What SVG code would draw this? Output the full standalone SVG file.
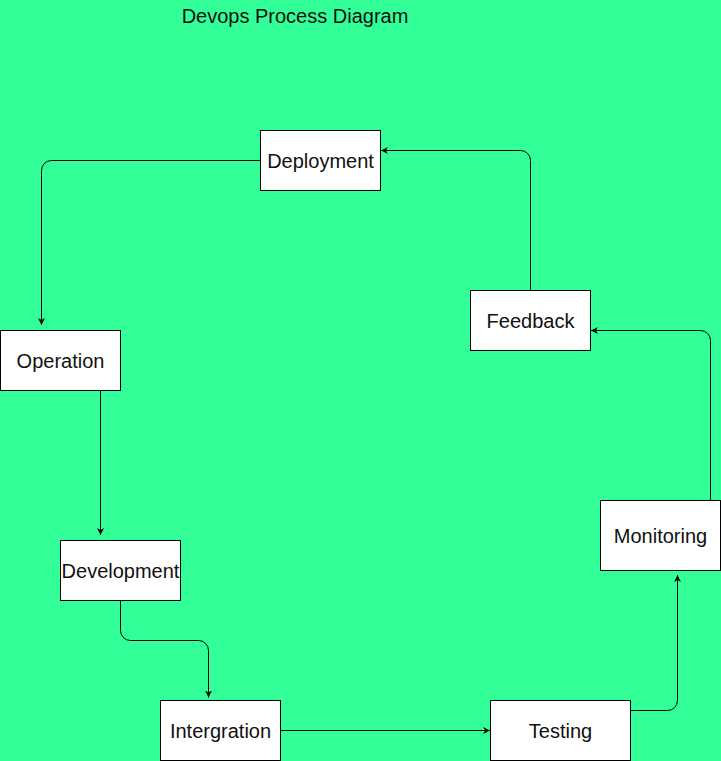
<svg xmlns="http://www.w3.org/2000/svg" width="721" height="761" viewBox="0 0 721 761">
  <style>
    .box { fill: #ffffff; stroke: #000000; stroke-width: 1; }
    .lbl { font-family: "Liberation Sans", Arial, sans-serif; font-size: 20px; fill: #111111; text-anchor: middle; }
    .edge { fill: none; stroke: #000000; stroke-width: 1; marker-end: url(#arrow); }
  </style>
  <defs>
    <marker id="arrow" viewBox="0 0 10 10" refX="10" refY="5" markerWidth="7" markerHeight="7" markerUnits="userSpaceOnUse" orient="auto">
      <path d="M0,0 L10,5 L0,10 L3,5 Z" fill="#000000"/>
    </marker>
  </defs>
  <rect x="0" y="0" width="721" height="761" fill="#33FF99"/>
  <text id="title" class="lbl" x="295" y="23">Devops Process Diagram</text>

  <g id="connectors">
    <path class="edge" d="M260.5 160.5 H51.5 A10 10 0 0 0 41.5 170.5 V325"/>
    <path class="edge" d="M100.5 390.5 V535"/>
    <path class="edge" d="M120.5 600.5 V630.5 A10 10 0 0 0 130.5 640.5 H198.5 A10 10 0 0 1 208.5 650.5 V697.5"/>
    <path class="edge" d="M280.5 730.5 H490"/>
    <path class="edge" d="M630.5 710.5 H667.5 A10 10 0 0 0 677.5 700.5 V575"/>
    <path class="edge" d="M710.5 500.5 V340.5 A10 10 0 0 0 700.5 330.5 H591"/>
    <path class="edge" d="M530.5 290.5 V160.5 A10 10 0 0 0 520.5 150.5 H381"/>
  </g>

  <g id="deployment">
    <rect class="box" x="260.5" y="130.5" width="120" height="60"/>
    <text class="lbl" x="320.5" y="167.5">Deployment</text>
  </g>
  <g id="feedback">
    <rect class="box" x="470.5" y="290.5" width="120" height="60"/>
    <text class="lbl" x="530.5" y="327.5">Feedback</text>
  </g>
  <g id="operation">
    <rect class="box" x="0.5" y="330.5" width="120" height="60"/>
    <text class="lbl" x="60.5" y="367.5">Operation</text>
  </g>
  <g id="development">
    <rect class="box" x="60.5" y="540.5" width="120" height="60"/>
    <text class="lbl" x="120.5" y="577.5">Development</text>
  </g>
  <g id="intergration">
    <rect class="box" x="160.5" y="700.5" width="120" height="60"/>
    <text class="lbl" x="220.5" y="737.5">Intergration</text>
  </g>
  <g id="testing">
    <rect class="box" x="490.5" y="700.5" width="140" height="60"/>
    <text class="lbl" x="560.5" y="737.5">Testing</text>
  </g>
  <g id="monitoring">
    <rect class="box" x="600.5" y="500.5" width="120" height="70"/>
    <text class="lbl" x="660.5" y="542.5">Monitoring</text>
  </g>
</svg>
